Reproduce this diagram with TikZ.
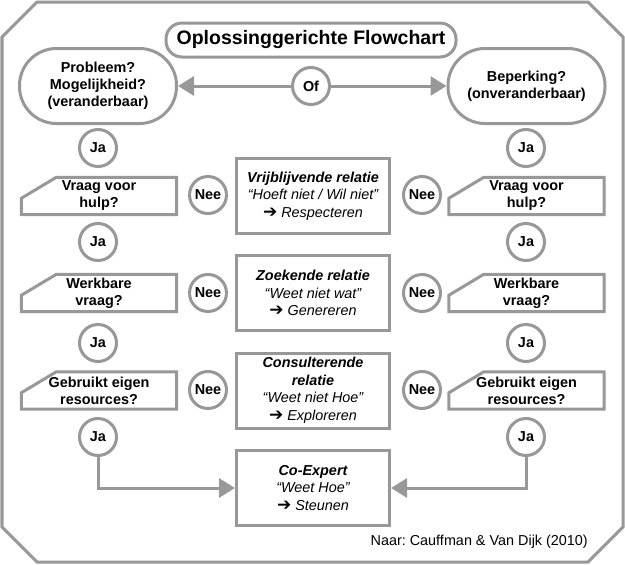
\documentclass[tikz,border=0pt]{standalone}
\usepackage{fontspec}
\setmainfont{Liberation Sans}
\newfontfamily\dv{DejaVu Sans}
\usetikzlibrary{arrows.meta,calc}
\definecolor{lg}{RGB}{152,152,152}
\newcommand{\arr}{{\dv\upshape\fontsize{17}{17}\selectfont ➔}}
\pgfdeclarelayer{bg}
\pgfsetlayers{bg,main}
\frenchspacing
\begin{document}
\begin{tikzpicture}[x=1pt,y=-1pt,
  every node/.style={font=\fontsize{14.4}{17}\selectfont\bfseries, align=center, inner sep=0pt},
  stroke/.style={draw=lg, line width=3pt},
  stadium/.style={stroke, fill=white, minimum width=157pt, minimum height=75pt, rounded corners=37pt},
  ring/.style={stroke, fill=white, circle, minimum size=37pt},
  qbox/.style={minimum width=155pt, minimum height=37pt},
  qshape/.style={stroke, fill=white},
  relbox/.style={stroke, fill=white, minimum width=153pt, minimum height=75pt},
  reltext/.style={font=\fontsize{14.4}{17.5}\selectfont\itshape},
  conn/.style={draw=lg, line width=3pt, -{Triangle[length=16pt,width=19pt]}},
]
\useasboundingbox (0,0) rectangle (625,565);
% outer frame
\begin{pgfonlayer}{bg}
\draw[stroke, fill=white] (37,2) -- (588,2) -- (623,37) -- (623,527) -- (588,562) -- (37,562) -- (2,527) -- (2,37) -- cycle;
\end{pgfonlayer}

% title
\node[stroke, fill=white, minimum width=290pt, minimum height=34pt, rounded corners=16pt,
      font=\fontsize{19.5}{22}\selectfont\bfseries] (title) at (311,40) {Oplossinggerichte Flowchart};

% top row
\node[stadium] (prob) at (98,86) {Probleem?\\Mogelijkheid?\\(veranderbaar)};
\node[stadium] (bep) at (526.5,86) {Beperking?\\(onveranderbaar)};
\node[ring] (of) at (311,86) {Of};
\draw[conn] (of) -- (prob);
\draw[conn] (of) -- (bep);

% left column
\node[ring] (jaL1) at (98,148) {Ja};
\node[qbox] (qL1) at (99,196) {Vraag voor\\hulp?};
\node[ring] (jaL2) at (98,242) {Ja};
\node[qbox] (qL2) at (99,293) {Werkbare\\vraag?};
\node[ring] (jaL3) at (98,343) {Ja};
\node[qbox] (qL3) at (99,390.5) {Gebruikt eigen\\resources?};
\node[ring] (jaL4) at (98,437) {Ja};

% right column
\node[ring] (jaR1) at (526,148) {Ja};
\node[qbox] (qR1) at (526.5,196) {Vraag voor\\hulp?};
\node[ring] (jaR2) at (526,242) {Ja};
\node[qbox] (qR2) at (526.5,293) {Werkbare\\vraag?};
\node[ring] (jaR3) at (526,343) {Ja};
\node[qbox] (qR3) at (526.5,390.5) {Gebruikt eigen\\resources?};
\node[ring] (jaR4) at (526,437) {Ja};

% chamfered question shapes (behind the text)
\begin{pgfonlayer}{bg}
\foreach \q in {qL1,qL2,qL3,qR1,qR2,qR3}{
  \draw[qshape] ($(\q.north west)+(35pt,0pt)$) -- (\q.north east) -- (\q.south east)
     -- (\q.south west) -- ($(\q.north west)+(0pt,-21pt)$) -- cycle;
}
\end{pgfonlayer}

% Nee circles
\node[ring] (neeL1) at (208,195) {Nee};
\node[ring] (neeL2) at (208,293) {Nee};
\node[ring] (neeL3) at (208,390) {Nee};
\node[ring] (neeR1) at (422,195) {Nee};
\node[ring] (neeR2) at (422,293) {Nee};
\node[ring] (neeR3) at (422,390) {Nee};

% relation boxes
\node[relbox, reltext] (r1) at (313,196) {\textbf{Vrijblijvende relatie}\\“Hoeft niet / Wil niet”\\\arr\ Respecteren};
\node[relbox, reltext] (r2) at (313,293) {\textbf{Zoekende relatie}\\“Weet niet wat”\\\arr\ Genereren};
\node[relbox, reltext] (r3) at (313,390.5) {\textbf{Consulterende}\\\textbf{relatie}\\“Weet niet Hoe”\\\arr\ Exploreren};
\node[relbox, reltext] (r4) at (313,488) {\textbf{Co-Expert}\\“Weet Hoe”\\\arr\ Steunen};

\draw[conn] (jaL4) |- (r4);
\draw[conn] (jaR4) |- (r4);

\node[font=\fontsize{14.4}{17}\selectfont, anchor=east] (src) at (588,542) {Naar: Cauffman \& Van Dijk (2010)};
\end{tikzpicture}
\end{document}
